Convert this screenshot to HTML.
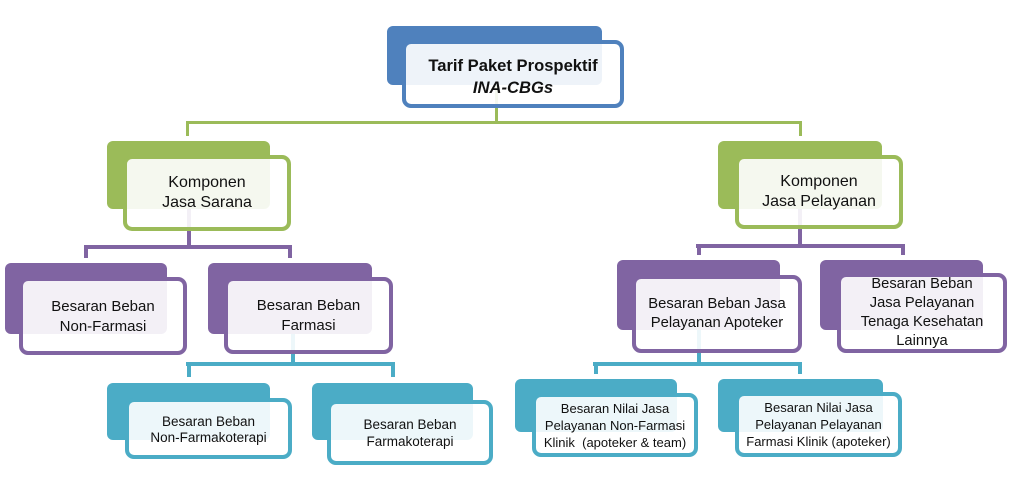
<!DOCTYPE html>
<html>
<head>
<meta charset="utf-8">
<style>
  html,body{margin:0;padding:0;background:#fff;}
  #c{position:relative;width:1024px;height:489px;overflow:hidden;background:#fff;
     font-family:"Liberation Sans",Arial,sans-serif;color:#111;}
  .l{position:absolute;}
  .b{position:absolute;border-radius:6px;box-sizing:border-box;}
  .f{position:absolute;box-sizing:border-box;border:4px solid;border-radius:9px;
     background:rgba(255,255,255,0.9);display:flex;align-items:center;justify-content:center;
     text-align:center;}
  .f span{display:block;}
  .bl{background:#4f81bd;} .gr{background:#9bbb59;} .pu{background:#8064a2;} .te{background:#4bacc6;}
  .fbl{border-color:#4f81bd;} .fgr{border-color:#9bbb59;} .fpu{border-color:#8064a2;} .fte{border-color:#4bacc6;}
</style>
</head>
<body>
<div id="c">
  <!-- green connectors -->
  <div class="l gr" style="left:495px;top:75px;width:3px;height:49px;"></div>
  <div class="l gr" style="left:186px;top:121px;width:616px;height:3px;"></div>
  <div class="l gr" style="left:186px;top:121px;width:3px;height:15px;"></div>
  <div class="l gr" style="left:799px;top:121px;width:3px;height:15px;"></div>

  <!-- purple connectors -->
  <div class="l pu" style="left:187px;top:195px;width:4px;height:53px;"></div>
  <div class="l pu" style="left:84px;top:245px;width:208px;height:4px;"></div>
  <div class="l pu" style="left:84px;top:245px;width:4px;height:13px;"></div>
  <div class="l pu" style="left:288px;top:245px;width:4px;height:13px;"></div>

  <div class="l pu" style="left:798px;top:195px;width:4px;height:52px;"></div>
  <div class="l pu" style="left:696px;top:244px;width:209px;height:4px;"></div>
  <div class="l pu" style="left:697px;top:244px;width:4px;height:11px;"></div>
  <div class="l pu" style="left:901px;top:244px;width:4px;height:11px;"></div>

  <!-- teal connectors -->
  <div class="l te" style="left:291px;top:320px;width:4px;height:46px;"></div>
  <div class="l te" style="left:186px;top:362px;width:209px;height:4px;"></div>
  <div class="l te" style="left:187px;top:362px;width:4px;height:15px;"></div>
  <div class="l te" style="left:391px;top:362px;width:4px;height:15px;"></div>

  <div class="l te" style="left:697px;top:318px;width:4px;height:47px;"></div>
  <div class="l te" style="left:593px;top:362px;width:209px;height:4px;"></div>
  <div class="l te" style="left:594px;top:362px;width:4px;height:12px;"></div>
  <div class="l te" style="left:798px;top:362px;width:4px;height:12px;"></div>

  <!-- top node -->
  <div class="b bl" style="left:387px;top:26px;width:215px;height:59px;"></div>
  <div class="f fbl" style="left:402px;top:40px;width:222px;height:68px;padding-top:5px;font-size:16.6px;font-weight:bold;line-height:22px;">
    <span>Tarif Paket Prospektif<br><i>INA-CBGs</i></span>
  </div>

  <!-- green nodes -->
  <div class="b gr" style="left:107px;top:141px;width:163px;height:68px;"></div>
  <div class="f fgr" style="left:123px;top:155px;width:168px;height:76px;font-size:16px;line-height:20px;">
    <span>Komponen<br>Jasa Sarana</span>
  </div>

  <div class="b gr" style="left:718px;top:141px;width:164px;height:68px;"></div>
  <div class="f fgr" style="left:735px;top:155px;width:168px;height:74px;font-size:16px;line-height:20px;">
    <span>Komponen<br>Jasa Pelayanan</span>
  </div>

  <!-- purple nodes -->
  <div class="b pu" style="left:5px;top:263px;width:162px;height:71px;"></div>
  <div class="f fpu" style="left:19px;top:277px;width:168px;height:78px;font-size:15px;line-height:20px;padding-top:2px;">
    <span>Besaran Beban<br>Non-Farmasi</span>
  </div>

  <div class="b pu" style="left:208px;top:263px;width:164px;height:71px;"></div>
  <div class="f fpu" style="left:224px;top:277px;width:169px;height:77px;font-size:15px;line-height:20px;">
    <span>Besaran Beban<br>Farmasi</span>
  </div>

  <div class="b pu" style="left:617px;top:260px;width:163px;height:70px;"></div>
  <div class="f fpu" style="left:632px;top:275px;width:170px;height:78px;font-size:14.8px;line-height:19px;">
    <span>Besaran Beban Jasa<br>Pelayanan Apoteker</span>
  </div>

  <div class="b pu" style="left:820px;top:260px;width:163px;height:70px;"></div>
  <div class="f fpu" style="left:837px;top:273px;width:170px;height:80px;font-size:14.7px;line-height:19px;">
    <span>Besaran Beban<br>Jasa Pelayanan<br>Tenaga Kesehatan<br>Lainnya</span>
  </div>

  <!-- teal nodes -->
  <div class="b te" style="left:107px;top:383px;width:163px;height:57px;"></div>
  <div class="f fte" style="left:125px;top:398px;width:167px;height:61px;font-size:13.5px;line-height:16px;padding-top:2px;">
    <span>Besaran Beban<br>Non-Farmakoterapi</span>
  </div>

  <div class="b te" style="left:312px;top:383px;width:161px;height:57px;"></div>
  <div class="f fte" style="left:327px;top:400px;width:166px;height:65px;font-size:13.5px;line-height:17px;">
    <span>Besaran Beban<br>Farmakoterapi</span>
  </div>

  <div class="b te" style="left:515px;top:379px;width:162px;height:53px;"></div>
  <div class="f fte" style="left:532px;top:393px;width:166px;height:64px;font-size:13px;line-height:17px;">
    <span>Besaran Nilai Jasa<br>Pelayanan Non-Farmasi<br>Klinik&nbsp; (apoteker &amp; team)</span>
  </div>

  <div class="b te" style="left:718px;top:379px;width:165px;height:53px;"></div>
  <div class="f fte" style="left:735px;top:392px;width:167px;height:65px;font-size:13px;line-height:17px;">
    <span>Besaran Nilai Jasa<br>Pelayanan Pelayanan<br>Farmasi Klinik (apoteker)</span>
  </div>
</div>
</body>
</html>
